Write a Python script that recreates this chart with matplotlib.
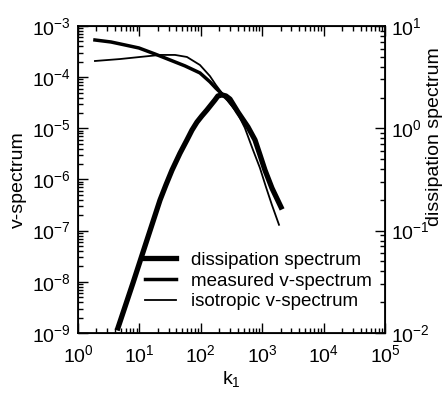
import matplotlib
matplotlib.use('Agg')
import matplotlib.pyplot as plt
from matplotlib.ticker import LogLocator, NullFormatter

plt.rcParams['font.family'] = ['Liberation Sans', 'DejaVu Sans']
plt.rcParams['mathtext.default'] = 'regular'

# measured v-spectrum (left axis)
k_meas = [1.89, 3.45, 5.82, 9.83, 17.9, 31.5, 55.3, 96.9, 141, 176, 221,
          277, 403, 587, 764, 921, 1111, 1445, 2025]
e_meas = [5.33e-4, 4.87e-4, 4.26e-4, 3.72e-4, 2.84e-4, 2.17e-4, 1.66e-4,
          1.21e-4, 8.1e-5, 6.1e-5, 4.7e-5, 3.6e-5, 2.09e-5, 1.06e-5,
          5.9e-6, 3.0e-6, 1.55e-6, 6.9e-7, 2.9e-7]

# isotropic v-spectrum (left axis)
k_iso = [1.89, 4.83, 10.2, 21.7, 38.1, 59.6, 96.9, 141, 176, 221, 277, 403,
         522, 708, 918, 1150, 1440, 1880]
e_iso = [2.07e-4, 2.26e-4, 2.48e-4, 2.72e-4, 2.72e-4, 2.48e-4, 1.73e-4,
         1.05e-4, 7.05e-5, 4.9e-5, 3.43e-5, 1.91e-5, 1.02e-5, 3.79e-6,
         1.69e-6, 7.2e-7, 3.19e-7, 1.3e-7]

# dissipation spectrum (right axis)
k_diss = [4.48, 7.87, 13.3, 21.7, 27.1, 34, 45.8, 59.6, 71.9, 86.7, 104, 126,
          151, 170, 190, 221, 257, 299, 403, 587, 764, 921, 1111, 1445, 2025]
d_diss = [0.0112, 0.0308, 0.081, 0.199, 0.28, 0.39, 0.57, 0.77, 0.96, 1.15,
          1.32, 1.51, 1.73, 1.89, 2.07, 2.12, 2.07, 1.93, 1.44, 1.03, 0.77,
          0.55, 0.39, 0.26, 0.17]

fig = plt.figure(figsize=(4.43, 3.94), dpi=100)
ax = fig.add_axes([0.176, 0.155, 0.693, 0.779])
ax2 = ax.twinx()

l2, = ax.plot(k_meas, e_meas, color='black', lw=2.5, label='measured v-spectrum')
l3, = ax.plot(k_iso, e_iso, color='black', lw=1.3, label='isotropic v-spectrum')
l1, = ax2.plot(k_diss, d_diss, color='black', lw=3.8, label='dissipation spectrum')

ax.set_xscale('log')
ax.set_yscale('log')
ax2.set_yscale('log')
ax.set_xlim(1, 1e5)
ax.set_ylim(1e-9, 1e-3)
ax2.set_ylim(1e-2, 10)

for a in (ax, ax2):
    a.tick_params(which='both', direction='in', labelsize=14, width=1)
    a.tick_params(which='major', length=7)
    a.tick_params(which='minor', length=3.5)
    a.yaxis.set_minor_locator(LogLocator(base=10, subs=range(2, 10), numticks=20))
    a.yaxis.set_minor_formatter(NullFormatter())
ax.yaxis.set_major_locator(LogLocator(base=10, numticks=20))
ax.xaxis.set_major_locator(LogLocator(base=10, numticks=20))
ax.xaxis.set_minor_locator(LogLocator(base=10, subs=range(2, 10), numticks=20))
ax.tick_params(axis='x', which='both', top=True)
ax.tick_params(axis='x', pad=8)
ax.tick_params(axis='y', which='both', right=False, pad=5)
ax2.tick_params(axis='y', pad=4)

for s in ax.spines.values():
    s.set_linewidth(1.3)

ax.set_xlabel('k$_1$', fontsize=14, labelpad=2)
ax.set_ylabel('v-spectrum', fontsize=14, labelpad=4)
ax2.set_ylabel('dissipation spectrum', fontsize=14)
ax2.yaxis.set_label_coords(1.135, 0.64)

ax2.legend(handles=[l1, l2, l3], loc='center left', frameon=False, fontsize=13.5,
           handlelength=1.65, handletextpad=0.8, labelspacing=0.2,
           borderpad=0, borderaxespad=0, bbox_to_anchor=(0.218, 0.169))

fig.savefig('out.png', dpi=100)
